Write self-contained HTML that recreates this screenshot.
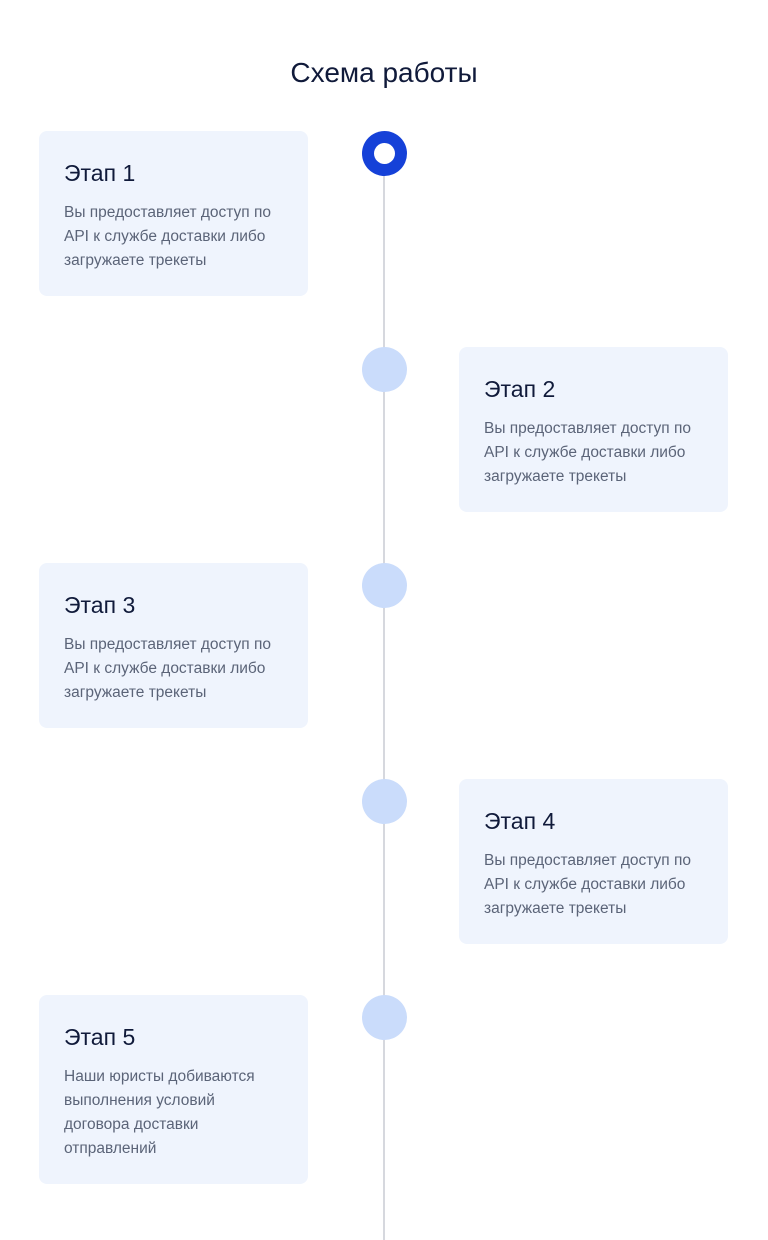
<!DOCTYPE html>
<html><head><meta charset="utf-8"><style>
body{margin:0;width:768px;height:1240px;background:#fff;position:relative;overflow:hidden;font-family:"Liberation Sans","DejaVu Sans",sans-serif;}
.t{position:absolute;left:0;width:768px;top:57px;text-align:center;font-size:28px;color:#101a3a;}
.line{position:absolute;left:383px;width:2px;top:170px;height:1070px;background:#d6d8de;}
.c{position:absolute;left:362px;width:45px;height:45px;border-radius:50%;background:#cadcfb;}
.c1{background:#1541d8;}
.c1:after{content:"";position:absolute;left:12px;top:12px;width:21px;height:21px;border-radius:50%;background:#fff;}
.card{position:absolute;width:269px;background:#eff4fd;border-radius:8px;box-sizing:border-box;padding:28px 25px;}
.card h3{margin:0;font-weight:normal;font-size:23px;color:#101a3a;line-height:28px;}
.card p{margin:14px 0 0;font-size:15.5px;line-height:24px;color:#5b6478;}
</style></head><body>
<div class="t">Схема работы</div>
<div class="line"></div>
<div class="c c1" style="top:131px"></div>
<div class="c" style="top:347px"></div>
<div class="c" style="top:563px"></div>
<div class="c" style="top:779px"></div>
<div class="c" style="top:995px"></div>
<div class="card" style="left:39px;top:131px;height:165px"><h3>Этап 1</h3><p>Вы предоставляет доступ по API к службе доставки либо загружаете трекеты</p></div>
<div class="card" style="left:459px;top:347px;height:165px"><h3>Этап 2</h3><p>Вы предоставляет доступ по API к службе доставки либо загружаете трекеты</p></div>
<div class="card" style="left:39px;top:563px;height:165px"><h3>Этап 3</h3><p>Вы предоставляет доступ по API к службе доставки либо загружаете трекеты</p></div>
<div class="card" style="left:459px;top:779px;height:165px"><h3>Этап 4</h3><p>Вы предоставляет доступ по API к службе доставки либо загружаете трекеты</p></div>
<div class="card" style="left:39px;top:995px;height:189px"><h3>Этап 5</h3><p>Наши юристы добиваются<br>выполнения условий<br>договора доставки<br>отправлений</p></div>
</body></html>
